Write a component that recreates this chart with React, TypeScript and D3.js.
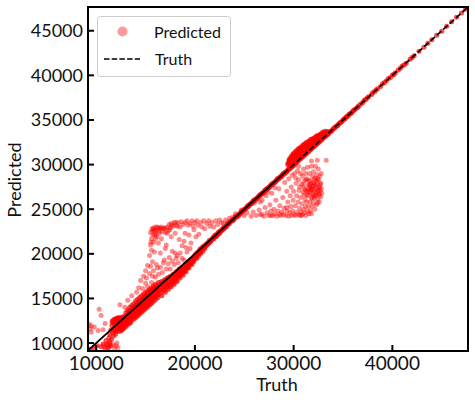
import React from "react";
import * as d3 from "d3";

const xTicks = [10000, 20000, 30000, 40000];
const yTicks = [10000, 15000, 20000, 25000, 30000, 35000, 40000, 45000];
const xDomain = [9170, 47660];
const yDomain = [9110, 47660];
const truthSolid = [9170, 29000];
const truthDashed = [29000, 47660];

type P = [number, number];
const bandLow: P[] = [
[9400,9300],[9800,9500],[10100,9700],[10500,9600],[10700,9900],[10900,9400],[11000,10300],[11100,9800],[11200,9500],[11300,10600],[11350,10100],[11400,11000],[11450,9700],[11500,11500],[11550,10400],[11600,12000],[11650,12500],[11700,11200],[11750,10800],[11800,12600],[11850,12100],[11900,11600],[11950,11000],[12000,12700],[12050,12300],[12100,11900],[12150,11500],[12200,12800],[12250,12400],[12300,11800],[12350,11300],[12400,12700],[12450,12200],[12500,11700],[12550,11400],[12600,12800],[12650,12300],[12700,11900],[12750,11600],[12800,13000],[12850,12500],[12900,12000],[12950,11800],[13000,13400],[13050,12900],[13100,12400],[13150,12000],[13200,13700],[13250,13200],[13300,12700],[13350,12200],[13400,14000],[13450,13500],[13500,13000],[13550,12500],[13600,14200],[13650,13700],[13700,13200],[13750,12800],[13800,14400],[13850,14000],[13900,13500],[13950,13000],[14000,14700],[14050,14200],[14100,13700],[14150,13200],[14200,14900],[14250,14400],[14300,13900],[14350,13400],[14400,15100],[14450,14600],[14500,14100],[14550,13600],[14600,15300],[14650,14800],[14700,14300],[14750,13800],[14800,15500],[14850,15000],[14900,14500],[14950,14000],[15000,15700],[15050,15200],[15100,14700],[15150,14200],[15200,15800],[15250,15400],[15300,14900],[15350,14400],[15400,16000],[15450,15600],[15500,15100],[15550,14600],[15600,16200],[15650,15800],[15700,15300],[15750,14900],[15800,16400],[15850,16000],[15900,15500],[15950,15200],[16000,16600],[16100,16100],[16200,15700],[16300,15400],[16300,16800],[16400,16300],[16500,15900],[16600,16900],[16700,16500],[16800,16100],[16900,17100],[17000,16700],[17100,16300],[17200,17300],[17300,16900],[17400,16600],[17500,17500],[17600,17100],[17700,16800],[17800,17700],[17900,17400],[18000,17100],[18100,18000],[18200,17600],[18300,17400],[18400,18300],[18500,17900],[18600,17700],[18700,18500],[18800,18200],[18900,18000],[19000,18800],[19100,18500],[19200,18400],[19300,19100],[19400,18900],[19500,18800],[19600,19400],[19700,19200],[19800,19100],[19900,19700],[20000,19500],[20100,20000],[20200,19800],[20300,20200],[20400,20000],[20500,20500],[20600,20400],[20700,20700],[20800,20600],[20900,20900],[21000,20800],[21150,21100],[21300,21200],[21450,21500],[21600,21500],[21750,21700],[21900,21900],[22050,22100],[22200,22100],[22350,22400],[22500,22500],[22650,22600],[22800,22800],[22950,23000],[23100,23000],
];
const bandDense: P[] = [
[11700,12300],[11800,11400],[11900,12700],[12000,12100],[12050,11300],[12100,12500],[12150,12800],[12200,11700],[12300,12100],[12350,12600],[12400,11600],[12450,12900],[12500,12100],[12550,12500],[12600,11500],[12650,12000],[12700,12600],[12750,12200],[12800,11800],[12850,12900],[12900,12300],[12950,12600],[13000,12100],[13050,12500],[13100,13100],[13150,12700],[13200,12300],[13250,13500],[13300,13000],[13350,12600],[13400,13200],[13450,12800],[13500,12300],[13550,13700],[13600,13300],[13650,12900],[13700,13900],[13750,13500],[13800,13100],[13850,12700],[13900,14100],[13950,13700],[14000,13300],[14050,12900],[14100,14400],[14150,13900],[14200,13500],[14250,13100],[14300,14600],[14350,14100],[14400,13700],[14450,13300],[14500,14800],[14550,14300],[14600,13900],[14650,13500],[14700,15000],[14750,14500],[14800,14100],[14850,13700],[14900,15200],[14950,14700],[15000,14300],[15050,13900],[15100,15400],[15150,14900],[15200,14500],[15250,14100],[15300,15600],[15350,15100],[15400,14700],[15450,14300],[15500,15800],[15550,15300],[15600,14900],[15650,14500],[15700,16000],[15750,15500],[15800,15100],[15850,14700],[15900,16200],[15950,15700],[16000,15300],[16050,14900],[16100,16400],[16150,15900],[16200,15400],[16250,15100],[16350,16500],[16450,16000],[16550,15600],[16650,15300],[16700,16800],[16800,16300],[16900,15900],[17000,15700],[17000,17000],[17100,16600],[17200,16200],[17300,16000],[17300,17300],[17400,16800],[17500,16400],[17600,16300],[17600,17400],[17700,17000],[17800,16700],[17900,16600],[17900,17700],[18000,17300],[18100,17000],[18200,16900],[18200,17900],[18300,17700],[18400,17500],[18500,17300],[18500,18200],[18600,18000],[18700,17800],[18800,17600],[18800,18500],[18900,18300],[19000,18100],[19100,18000],[19100,18700],[19200,18600],[19300,18500],[19400,18400],[19400,19000],[19500,19100],[19600,18900],[19700,18800],[19700,19400],[19800,19300],[19900,19200],[20000,19800],[20100,19600],[20200,19500],[20300,20000],[20400,19800],[20500,20200],[20600,20100],[20700,20500],[20800,20300],[20900,20700],[21000,20600],[21100,20900],[21200,21000],[21300,21100],[21400,21200],[21500,21300],[21600,21400],[21700,21600],[21800,21700],[21900,21700],[22000,21900],[22100,21900],[22200,22000],[22300,22200],[22400,22300],[22500,22300],[22600,22500],[22700,22600],[22800,22700],[22900,22800],[23000,22900],
];
const bandHigh: P[] = [
[23250,23300],[23400,23400],[23550,23600],[23700,23700],[23850,23800],[24000,24000],[24150,24200],[24300,24300],[24450,24400],[24600,24600],[24750,24800],[24900,24900],[25050,25000],[25200,25200],[25350,25400],[25500,25500],[25650,25600],[25800,25800],[25950,26000],[26100,26100],[26250,26200],[26400,26400],[26550,26600],[26700,26700],[26850,26800],[27000,27000],[27150,27200],[27300,27300],[27450,27400],[27600,27600],[27750,27800],[27900,27900],[28050,28000],[28200,28200],[28350,28400],[28500,28500],[28650,28600],[28800,28800],[28950,29000],[29100,29100],[29250,29200],[29400,29400],[29550,29600],[29700,29700],[29850,29800],[30000,30000],[30200,30200],[30400,30400],[30600,30600],[30800,30800],[31000,31000],[31200,31200],[31400,31400],[31600,31600],[31800,31800],[32000,32000],[32200,32200],[32400,32400],[32600,32600],[32800,32800],[33000,33000],[33200,33150],[33400,33350],[33600,33600],[33800,33750],[34000,34000],[34200,34150],[34400,34350],[34600,34600],[34800,34750],[35000,35000],[35200,35150],[35400,35400],[35600,35600],[35800,35750],[36000,36000],[36200,36200],[36400,36350],[36600,36600],[36800,36800],[37000,36950],[37300,37300],[37600,37600],[37900,37850],[38200,38200],[38500,38500],[38800,38750],[39000,39050],[39400,39400],[39800,39750],[40000,40050],[40300,40300],[40600,40600],[41000,41050],[41400,41350],[41800,41800],[42200,42200],[42700,42700],[43200,43150],[43600,43600],[44000,44000],[44500,44500],[45000,44950],[45500,45500],[46000,46000],[46500,46500],[47000,47000],[47400,47400],
];
const bandMid: P[] = [
[23200,23050],[23350,23300],[23500,23400],[23650,23650],[23800,23700],[23950,23850],[24100,24100],[24250,24150],[24400,24350],[24550,24450],[24700,24650],[24850,24750],[25000,24950],[25150,25050],[25300,25250],[25450,25350],[25600,25550],[25750,25650],[25900,25850],[26050,25950],[26200,26150],[26350,26250],[26500,26450],[26650,26550],[26800,26750],[26950,26850],[27100,27050],[27250,27150],[27400,27350],[27550,27450],[27700,27650],[27850,27750],[28000,27950],[28150,28050],[28300,28250],[28450,28350],[28600,28550],[28750,28650],[28900,28850],[29050,28950],[29200,29150],[29350,29250],[29500,29450],[29650,29550],[29800,29750],[29950,29850],[30100,30050],[30300,30250],[30500,30450],[30700,30650],[30900,30850],[31100,31050],[31300,31250],[31500,31450],[31700,31650],[31900,31850],[32100,32050],[32300,32250],[32500,32450],[32700,32650],[32900,32850],[33100,33100],[33300,33300],[33500,33450],[33700,33700],[33900,33850],[34100,34100],[34300,34300],[34500,34450],[34700,34700],[34900,34850],[35100,35100],[35300,35300],[35500,35450],[35700,35700],[35900,35850],[36100,36100],[36500,36450],[37150,37200],[37450,37450],[38000,38050],[38350,38350],[39200,39200],[39600,39650],[40150,40100],[40800,40800],[41200,41200],[42000,42000],
];
const upperRidge: P[] = [
[29400,30000],[29500,30300],[29550,30600],[29600,29900],[29700,30800],[29750,30400],[29800,31000],[29900,30600],[29950,31200],[30000,30800],[30050,31300],[30100,30500],[30150,31100],[30200,31500],[30300,31000],[30350,31600],[30400,31200],[30500,31800],[30550,31400],[30600,31000],[30650,31900],[30700,31500],[30800,32000],[30850,31700],[30900,31300],[30950,32200],[31000,31800],[31100,32300],[31150,32000],[31200,31600],[31300,32500],[31350,32100],[31400,31800],[31500,32600],[31550,32300],[31600,32000],[31700,32800],[31750,32400],[31800,32100],[31900,32900],[31950,32600],[32000,32300],[32100,33000],[32150,32700],[32200,32400],[32300,33200],[32350,32800],[32400,32500],[32500,33300],[32550,33000],[32600,32700],[32700,33400],[32750,33100],[32850,33550],[32900,33200],[33000,33650],[33100,33400],[33200,33750],[33400,33700],[33500,33500],
[29450,30150],[29600,30500],[29650,30200],[29800,30700],[29850,30300],[30000,31100],[30100,30900],[30250,31300],[30300,30700],[30450,31500],[30500,31100],[30600,31700],[30700,31200],[30800,31800],[30900,31600],[31000,32100],[31100,31600],[31200,32300],[31300,31900],[31400,32400],[31500,32000],[31600,32600],[31700,32200],[31800,32700],[31900,32400],[32000,32800],[32100,32600],[32200,33000],[32300,32600],[32400,33100],[32500,32800],[32600,33200],[32700,32900],[32800,33400],[32950,33450],[33050,33200],[33150,33500],[33300,33600],
];
const lowerBlob: P[] = [
[24100,24500],[24400,24200],[24700,24900],[25000,24300],[25300,24600],[25400,25300],[25700,24200],[25900,24700],[26000,25700],[26200,24300],[26500,24900],[26600,25800],[26800,24400],[27000,24200],[27100,25200],[27200,26500],[27300,24600],[27500,24300],[27600,25500],[27700,24800],[27800,26800],[27900,24300],[28000,25000],[28100,24500],[28200,26000],[28300,24200],[28400,24800],[28500,27300],[28600,25400],[28700,24300],[28800,24700],[28900,26300],[29000,24400],[29050,25100],[29100,28000],[29200,24300],[29300,27000],[29350,24800],[29400,25800],[29500,24200],[29500,28400],[29600,24600],[29650,26500],[29700,25300],[29750,27500],[29800,24300],[29850,28800],[29900,24800],[29950,26000],[30000,27000],[30050,24400],[30100,29000],[30150,25400],[30200,24300],[30250,27900],[30300,26500],[30350,24700],[30400,29300],[30450,25800],[30500,24400],[30500,28300],[30550,27100],[30600,25100],[30650,24300],[30700,29000],[30700,26300],[30750,24700],[30800,27800],[30850,25600],[30900,28700],[30900,24400],[30950,26900],[31000,25000],[31000,29500],[31050,27400],[31100,24600],[31100,28200],[31150,26100],[31200,25300],[31200,29000],[31250,24300],[31300,27000],[31300,25800],[31350,28400],[31400,24800],[31400,29700],[31450,26500],[31500,27700],[31500,25300],[31550,24500],[31600,29000],[31600,26900],[31650,25800],[31700,28200],[31700,24800],[31750,27200],[31800,26200],[31800,29800],[31850,25300],[31900,28700],[31900,27500],[31950,26700],[32000,25700],[32000,29200],[32050,28000],[32100,27100],[32100,26200],[32150,25000],[32200,28500],[32200,29800],[32250,27600],[32300,26600],[32300,25500],[32350,28900],[32400,27900],[32400,27000],[32450,26100],[32500,29500],[32500,28300],[32550,27400],[32600,26700],[32600,25800],[32650,28700],[32700,27800],[32700,27100],[32750,26400],[32800,29000],[33300,30500],[32400,30500],[31800,30400],[30500,29800],[28100,27400],[27400,26900],[26800,26000],
[31000,27800],[31050,26600],[31150,27200],[31250,28300],[31350,26600],[31450,27300],[31550,28200],[31650,27400],[31750,26800],[31850,27900],[31950,27200],[32050,26500],[32150,27800],[32250,26900],[32350,27400],[32450,28400],[32550,26600],[32650,27500],[32750,27900],[32800,27300],[32850,26800],[31900,26300],[32100,28400],[31700,27800],[32300,28200],[32500,27100],[32000,27600],[31800,27300],[32200,26500],[32400,25700],[31600,27700],[31400,27000],[30600,27500],[30200,28500],[29300,25200],[28600,24400],[27700,24300],[26600,24400],[30800,24300],[31800,24500],
];
const upperLeft: P[] = [
[15400,19800],[15500,21000],[15500,22400],[15600,20400],[15600,21700],[15700,22600],[15700,19100],[15800,21300],[15800,22900],[15900,20200],[15900,22200],[16000,23000],[16000,21700],[16100,22600],[16200,18400],[16200,23000],[16300,21200],[16400,22300],[16500,22800],[16500,20100],[16600,21700],[16700,22500],[16800,19000],[16900,22800],[17000,22400],[17000,20600],[17100,21000],[17200,23000],[17300,22600],[17400,23300],[17400,19600],[17500,22900],[17600,23400],[17600,21900],[17700,20300],[17800,23100],[17900,23500],[18000,22300],[18000,20100],[18100,23200],[18200,19800],[18300,23500],[18400,21600],[18500,23000],[18600,23600],[18700,20900],[18800,23300],[18900,21400],[19000,23500],[19000,22300],[19100,20700],[19200,23700],[19300,23200],[19400,22100],[19500,23400],[19600,21200],[19700,23700],[19800,23100],[19900,22700],[20000,23500],[20100,21900],[20200,23700],[20300,23200],[20400,22200],[20600,23500],[20700,23000],[20900,23700],[21000,22800],[21200,23400],[21400,23700],[21500,23100],[21700,23500],[21900,23000],[22100,23700],[22300,23300],[22500,23800],[22700,23500],[22900,23400],[23100,23800],[23300,23500],[23500,24000],[23800,24100],
[14100,15700],[14300,16200],[14500,17000],[14700,16100],[14800,17500],[15000,18100],[15000,16700],[15100,17300],[15200,18700],[15200,16300],[15400,17800],[15500,18600],[15600,16800],[15700,17500],[15800,18100],[16000,17400],[16100,18800],[16300,17700],[16500,18500],[16700,17900],[16900,19300],[17100,18300],[17300,18900],[17500,18300],[17700,19200],[17900,18800],[18100,19500],[18300,19000],[18500,20100],[18700,19500],[18900,19300],[19200,20200],[19500,20600],[13200,14800],[13600,15300],[12900,14000],[12400,14300],
[15550,21300],[15650,22800],[15750,22100],[15850,22700],[15950,22500],[16050,22100],[16150,21900],[16250,22900],[16350,22500],[16450,22900],[16600,23000],[16800,22900],[17000,22900],[17200,22300],[17450,22700],[17650,23200],[18050,23500],[18250,23100],
];
const lowerLeft: P[] = [
[9300,12100],[9400,11600],[9500,11200],[9500,11900],[9800,11800],[10200,11400],[10300,13800],[10500,13100],[10800,9700],[11100,9900],[11300,9500],[11400,10000],[11600,12400],[11700,9800],[11850,9400],[12000,9700],[12100,10000],[12200,9500],[10700,11500],[10900,12200],
];
// The dense diagonal is many overlapping predictions: each band list is plotted several times to reach the reference's saturation.
const pointGroups = [bandLow, bandDense, bandLow, bandDense, bandHigh, bandMid, bandHigh, bandMid, upperRidge, upperRidge, lowerBlob, upperLeft, lowerLeft];

const W = 475, H = 403;
const L = 88, R = 468, T = 7, B = 351;
const FONT = "Lato, sans-serif";

export default function App() {
  const x = d3.scaleLinear().domain(xDomain).range([L, R]);
  const y = d3.scaleLinear().domain(yDomain).range([B, T]);
  return (
    <svg width={W} height={H} viewBox={`0 0 ${W} ${H}`}
      style={{ position: "fixed", left: 0, top: 0, background: "#fff", fontFamily: FONT }}>
      <defs>
        <clipPath id="plot"><rect x={L} y={T} width={R - L} height={B - T} /></clipPath>
      </defs>
      <g clipPath="url(#plot)">
        {pointGroups.flat().map(([a, b], i) => (
          <circle key={i} cx={x(a)} cy={y(b)} r={2.5} fill="#ff0000" fillOpacity={0.45} />
        ))}
        <line x1={x(truthSolid[0])} y1={y(truthSolid[0])} x2={x(truthSolid[1])} y2={y(truthSolid[1])}
          stroke="#000" strokeWidth={1.8} />
        <line x1={x(truthDashed[0])} y1={y(truthDashed[0])} x2={x(truthDashed[1])} y2={y(truthDashed[1])}
          stroke="#000" strokeWidth={1.6} strokeDasharray="6 2.6" />
      </g>
      {xTicks.map(t => (
        <g key={t}>
          <line x1={x(t)} x2={x(t)} y1={B} y2={B - 6} stroke="#000" strokeWidth={2} />
          <text x={x(t)} y={B + 18.5} textAnchor="middle" fontSize={19} fill="#111">{t}</text>
        </g>
      ))}
      {yTicks.map(t => (
        <g key={t}>
          <line x1={L} x2={L + 6} y1={y(t)} y2={y(t)} stroke="#000" strokeWidth={2} />
          <text x={L - 5} y={y(t) + 6.5} textAnchor="end" fontSize={18} fill="#111">{t}</text>
        </g>
      ))}
      <rect x={L} y={T} width={R - L} height={B - T} fill="none" stroke="#000" strokeWidth={2} />
      <text x={(L + R) / 2 - 1} y={391} textAnchor="middle" fontSize={18} fill="#111">Truth</text>
      <text transform={`translate(21,${(T + B) / 2 + 1}) rotate(-90)`} textAnchor="middle" fontSize={18} fill="#111">Predicted</text>
      <rect x={97.5} y={16.5} width={133} height={60} rx={3} fill="#fff" fillOpacity={0.8} stroke="#ccc" />
      <circle cx={122.5} cy={31.5} r={5} fill="#ff0000" fillOpacity={0.4} />
      <line x1={104} x2={140} y1={59} y2={59} stroke="#000" strokeWidth={1.5} strokeDasharray="5.5 2.2" />
      <text x={154} y={38} fontSize={16} fill="#111">Predicted</text>
      <text x={155} y={65} fontSize={16} fill="#111">Truth</text>
    </svg>
  );
}
